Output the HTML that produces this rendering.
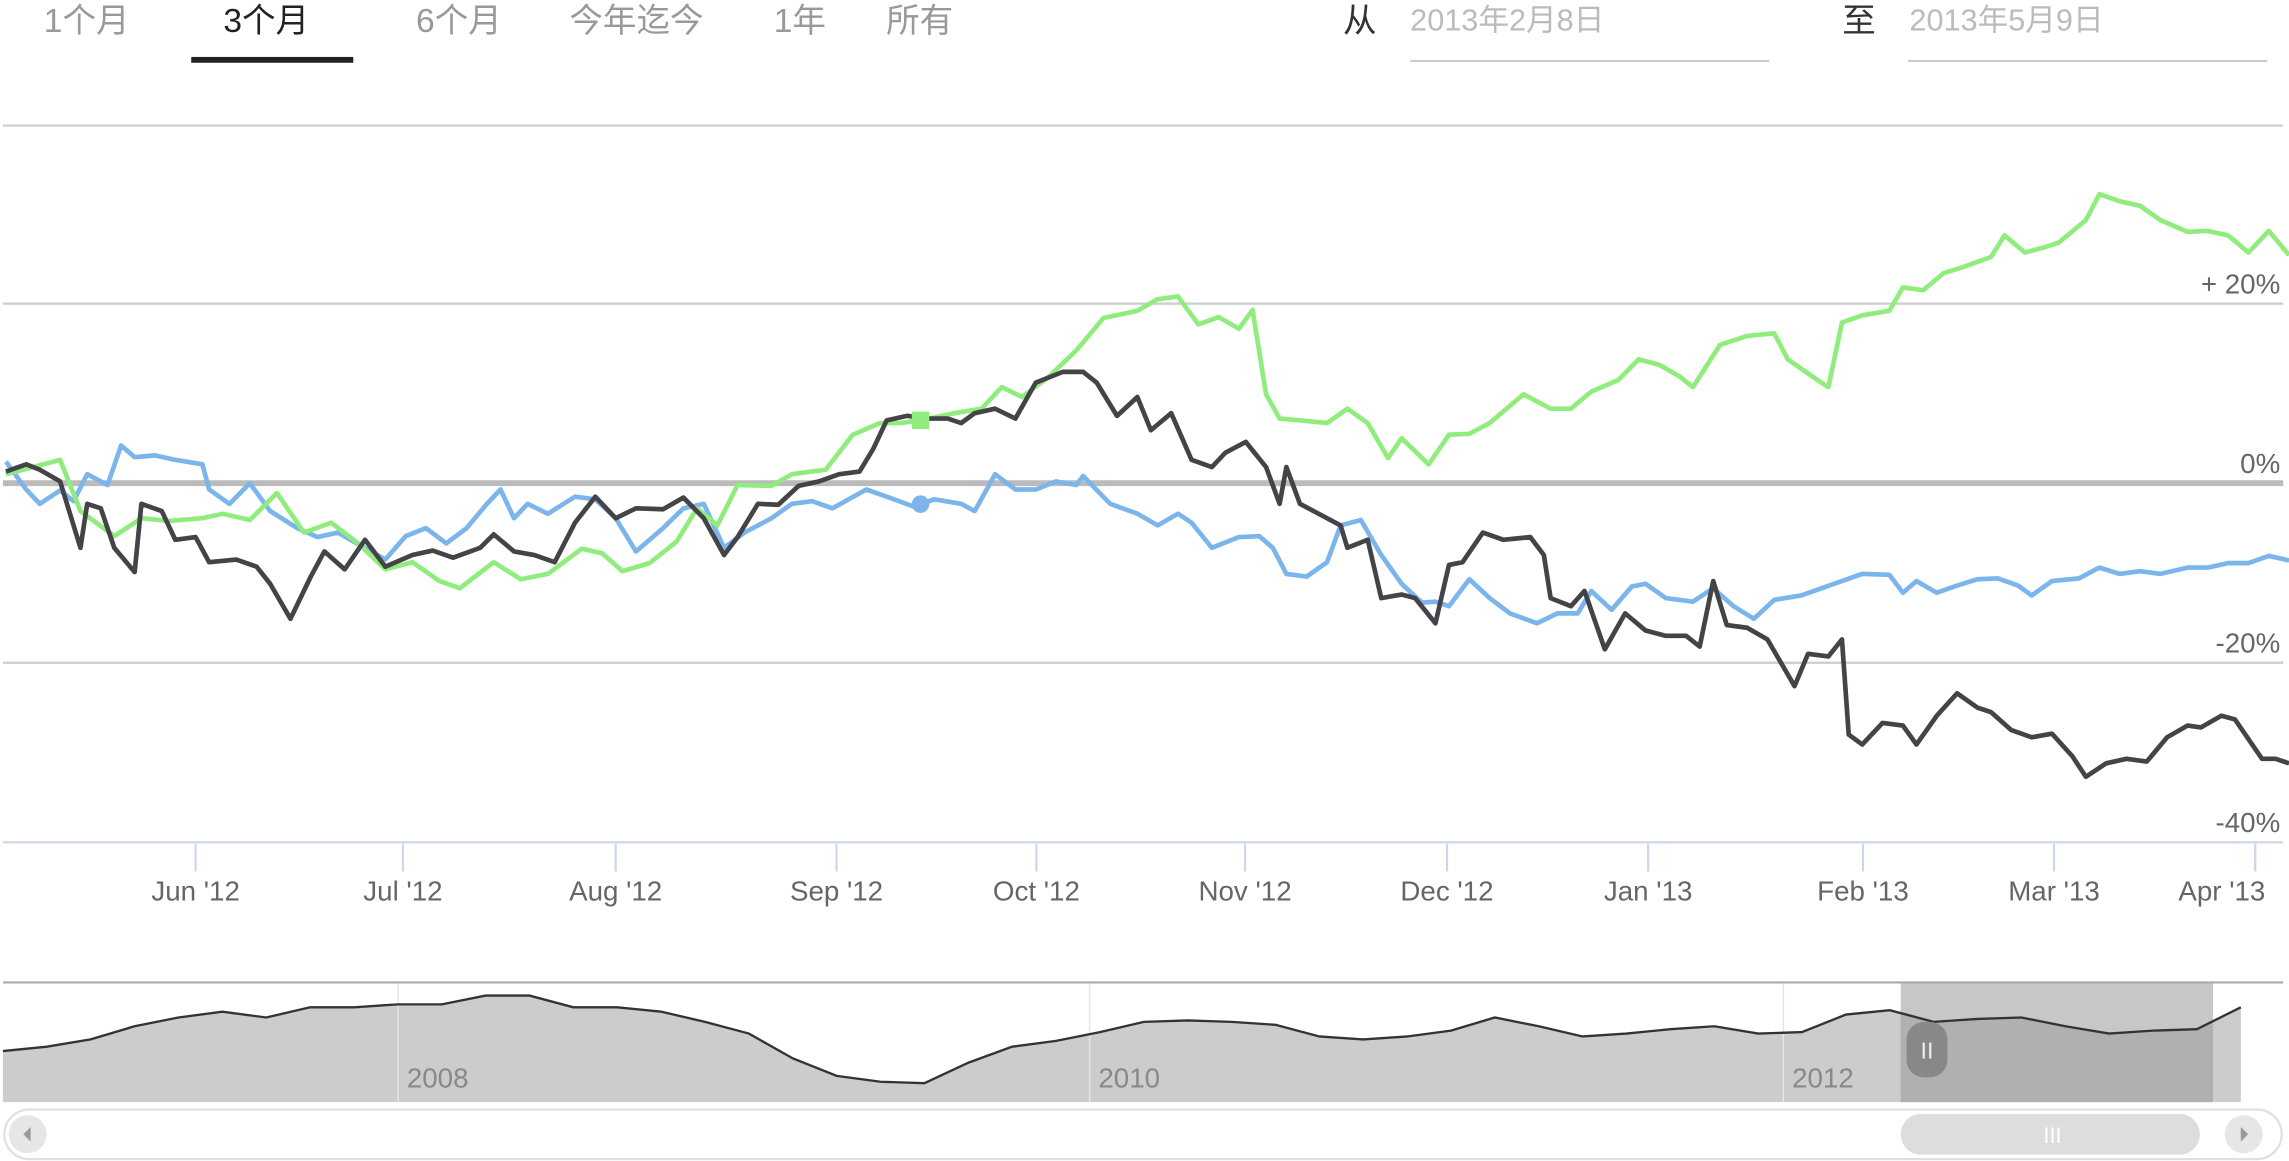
<!DOCTYPE html>
<html><head><meta charset="utf-8"><style>
html,body{margin:0;padding:0;background:#fff;}
svg{display:block;font-family:"Liberation Sans","Noto Sans CJK SC",sans-serif;}
</style></head><body>
<svg id="chart" width="2289" height="1161" viewBox="0 0 1568 795.3" preserveAspectRatio="none" xmlns="http://www.w3.org/2000/svg">
<g>
  <text x="30" y="22" font-size="23" fill="#999">1个月</text>
  <text x="153" y="22" font-size="23" fill="#222">3个月</text>
  <rect x="131" y="39" width="111" height="4" fill="#222"/>
  <text x="285" y="22" font-size="23" fill="#999">6个月</text>
  <text x="390" y="22" font-size="23" fill="#999">今年迄今</text>
  <text x="530" y="22" font-size="23" fill="#999">1年</text>
  <text x="607" y="22" font-size="23" fill="#999">所有</text>
  <text x="920" y="22" font-size="23" fill="#333">从</text>
  <text x="966" y="21" font-size="21" fill="#bbb">2013年2月8日</text>
  <rect x="966" y="41" width="246" height="1.5" fill="#ccc"/>
  <text x="1262" y="22" font-size="23" fill="#333">至</text>
  <text x="1308" y="21" font-size="21" fill="#bbb">2013年5月9日</text>
  <rect x="1307" y="41" width="246" height="1.5" fill="#ccc"/>
</g>
<line x1="2" y1="86" x2="1564" y2="86" stroke="#ccc" stroke-width="1.5"/>
<g id="grid"></g>
<g id="xaxis"></g>
<g id="series"></g>
<g id="nav"></g>
</svg>
<script>
const NS="http://www.w3.org/2000/svg";
const yTicks=[20,0,-20,-40];
const yTickLabels=["+ 20%","0%","-20%","-40%"];
const monthTickLabels=["Jun '12","Jul '12","Aug '12","Sep '12","Oct '12","Nov '12","Dec '12","Jan '13","Feb '13","Mar '13","Apr '13"];
const monthDays=[28,58.6,90,122.6,152.1,182.9,212.7,242.4,274.1,302.3,332];
const blackDays=[0,3,5,8,11,12,14,16,19,20,23,25,28,30,34,37,39,42,45,47,50,53,56,60,63,66,70,72,75,78,81,84,87,90,93,97,100,103,106,108,111,114,117,120,123,126,128,130,133,136,139,141,143,146,149,152,156,159,161,164,167,169,172,175,178,180,183,186,188,189,191,195,197,198,201,203,206,208,211,213,215,218,221,225,227,228,231,233,236,239,242,245,248,250,252,254,257,260,264,266,269,271,272,274,277,280,282,285,288,291,293,296,299,302,305,307,310,313,316,319,322,324,327,329,333,335,337];
const blackValues=[1.3,2.1,1.5,0.2,-7.2,-2.3,-2.8,-7.2,-9.9,-2.3,-3.1,-6.3,-6.0,-8.8,-8.5,-9.3,-11.2,-15.1,-10.4,-7.6,-9.6,-6.3,-9.3,-8.0,-7.5,-8.3,-7.2,-5.7,-7.6,-8.0,-8.8,-4.4,-1.5,-3.9,-2.8,-2.9,-1.6,-3.9,-8.0,-6.0,-2.3,-2.4,-0.3,0.2,1.0,1.3,3.8,7.0,7.5,7.2,7.2,6.7,7.8,8.3,7.2,11.2,12.4,12.4,11.2,7.5,9.6,5.9,7.8,2.6,1.8,3.4,4.6,1.8,-2.3,1.8,-2.3,-3.9,-4.7,-7.2,-6.3,-12.8,-12.4,-12.8,-15.6,-9.1,-8.8,-5.5,-6.3,-6.0,-8.0,-12.8,-13.7,-12.0,-18.5,-14.5,-16.4,-17.0,-17.0,-18.2,-10.9,-15.8,-16.1,-17.4,-22.6,-19.0,-19.3,-17.4,-28.0,-29.1,-26.7,-27.0,-29.1,-25.9,-23.4,-25.0,-25.5,-27.5,-28.3,-27.9,-30.4,-32.7,-31.2,-30.7,-31.0,-28.3,-27.0,-27.2,-25.9,-26.3,-30.7,-30.7,-31.2];
const blueDays=[0,3,5,8,10,12,15,17,19,22,25,29,30,33,36,39,43,46,49,52,56,59,62,65,68,71,73,75,77,80,84,87,90,93,97,100,103,106,109,113,116,119,122,127,130,134,137,141,143,146,149,152,155,158,159,163,167,170,173,175,178,182,185,187,189,192,195,197,200,203,206,209,211,213,216,219,222,226,229,232,234,237,240,242,245,249,252,255,258,261,265,268,271,274,278,280,282,285,288,291,294,297,299,302,306,309,312,315,318,322,325,328,331,334,337];
const blueValues=[2.4,-0.7,-2.3,-0.8,-2.0,1.0,-0.2,4.2,2.9,3.1,2.6,2.1,-0.7,-2.3,0,-3.1,-5.0,-6.0,-5.5,-6.8,-8.5,-5.9,-5.0,-6.7,-5.0,-2.3,-0.7,-3.9,-2.3,-3.4,-1.5,-1.8,-3.9,-7.6,-5.0,-2.8,-2.3,-7.2,-5.5,-3.9,-2.3,-2.0,-2.8,-0.7,-1.5,-2.6,-1.8,-2.3,-3.1,1.0,-0.7,-0.7,0.2,-0.2,0.8,-2.3,-3.4,-4.7,-3.4,-4.4,-7.2,-6.0,-5.9,-7.2,-10.1,-10.4,-8.8,-4.7,-4.1,-8.0,-11.2,-13.3,-13.2,-13.7,-10.7,-12.8,-14.5,-15.6,-14.5,-14.5,-12.0,-14.1,-11.5,-11.2,-12.8,-13.2,-11.7,-13.7,-15.1,-13.0,-12.5,-11.7,-10.9,-10.1,-10.2,-12.2,-10.9,-12.2,-11.4,-10.7,-10.6,-11.4,-12.5,-10.9,-10.6,-9.4,-10.1,-9.8,-10.1,-9.4,-9.4,-8.9,-8.9,-8.1,-8.6];
const greenDays=[0,8,11,16,20,24,29,32,36,40,44,48,52,56,60,64,67,72,76,80,85,88,91,95,99,102,105,108,113,116,121,125,129,132,135,140,144,147,150,154,158,162,167,170,173,176,179,182,184,186,188,191,195,198,201,204,206,210,213,216,219,224,228,231,234,238,241,244,247,249,253,257,261,263,267,269,271,274,278,280,283,286,289,293,295,298,301,303,307,309,312,315,318,322,325,328,331,334,337];
const greenValues=[1.0,2.6,-3.1,-5.9,-3.9,-4.2,-3.9,-3.4,-4.1,-1.1,-5.5,-4.4,-6.7,-9.6,-8.8,-10.9,-11.7,-8.8,-10.7,-10.1,-7.3,-7.8,-9.8,-8.9,-6.5,-2.8,-4.7,-0.2,-0.3,1.0,1.5,5.4,6.7,6.7,7.0,7.8,8.3,10.7,9.6,11.9,14.8,18.4,19.2,20.5,20.8,17.7,18.5,17.2,19.3,9.9,7.2,7.0,6.7,8.3,6.7,2.8,5.0,2.1,5.4,5.5,6.7,9.9,8.3,8.3,10.2,11.5,13.8,13.2,11.9,10.7,15.4,16.4,16.7,13.8,11.7,10.7,17.9,18.7,19.2,21.8,21.5,23.4,24.1,25.2,27.6,25.7,26.3,26.8,29.3,32.2,31.4,30.9,29.3,28.0,28.1,27.6,25.7,28.1,25.4];
const markerDay=135;
const navValues=[35,38,43,52,58,62,58,65,65,67,67,73,73,65,65,62,55,47,30,18,14,13,27,38,42,48,55,56,55,53,45,43,45,49,58,52,45,47,50,52,47,48,60,63,55,57,58,52,47,49,50,65];
const navYearLabels=["2008","2010","2012"];
const navYearPos=[0.176,0.484,0.793];

const X0=134,PXD=4.641;
const xS=d=>X0+(d-28)*PXD;
const yS=v=>331-v*6.15;
function el(tag,attrs,parent){const e=document.createElementNS(NS,tag);for(const k in attrs)e.setAttribute(k,attrs[k]);parent.appendChild(e);return e;}
const grid=document.getElementById('grid');
yTicks.forEach((t,i)=>{
  const y=yS(t);
  const ln=el('line',{x1:2,x2:1564,y1:y,y2:y,stroke:t===0?'#bbb':(t===-40?'#ccd6eb':'#ccc'),'stroke-width':t===0?4:1.5},grid);
  
  
  const tx=el('text',{x:1562,y:y-7,'text-anchor':'end','font-size':19,fill:'#666'},grid);
  tx.textContent=yTickLabels[i];
  
  
});
const xa=document.getElementById('xaxis');
monthDays.forEach((d,i)=>{
  const x=xS(d);
  const tk=el('line',{x1:x,x2:x,y1:578,y2:597,stroke:'#ccd6eb','stroke-width':1.5},xa);
  
  
  const tx=el('text',{x:Math.min(x,1522),y:617,'text-anchor':'middle','font-size':19,fill:'#666'},xa);
  tx.textContent=monthTickLabels[i];
  
  
});
const sg=document.getElementById('series');
function drawLine(days,vals,color,name){
  const p=el('polyline',{points:days.map((d,i)=>xS(d)+','+yS(vals[i])).join(' '),fill:'none',stroke:color,'stroke-width':3.2,'stroke-linejoin':'round'},sg);
  
  
}
drawLine(blueDays,blueValues,'#7cb5ec','series-blue-line');
drawLine(greenDays,greenValues,'#90ed7d','series-green-line');
drawLine(blackDays,blackValues,'#434348','series-black-line');
function interp(days,vals,d){for(let i=1;i<days.length;i++){if(days[i]>=d){const t=(d-days[i-1])/(days[i]-days[i-1]||1);return vals[i-1]+t*(vals[i]-vals[i-1]);}}return vals[vals.length-1];}
const sq=el('rect',{x:xS(markerDay)-6,y:yS(interp(greenDays,greenValues,markerDay))-6,width:12,height:12,fill:'#90ed7d'},sg);


const ci=el('circle',{cx:xS(markerDay),cy:yS(interp(blueDays,blueValues,markerDay)),r:6,fill:'#7cb5ec'},sg);



const navG=document.getElementById('nav');
const NX0=2,NX1=1535,NYB=755;
const nx=i=>NX0+i*(NX1-NX0)/(navValues.length-1);
const ny=v=>NYB-v;
const navPts=navValues.map((v,i)=>nx(i)+','+ny(v)).join(' ');
const navArea=el('polygon',{points:NX0+','+NYB+' '+navPts+' '+NX1+','+NYB,fill:'#ccc'},navG);


navYearPos.forEach((f,i)=>{
  const x=NX0+f*1538;
  const g=el('line',{x1:x,x2:x,y1:673,y2:755,stroke:'#e6e6e6','stroke-width':1},navG);
  
  
  const t=el('text',{x:x+6,y:745,'font-size':19,fill:'#888'},navG);
  t.textContent=navYearLabels[i];
  
  
});
const navSel=el('rect',{x:1302,y:673,width:214,height:82,fill:'#999','fill-opacity':0.55},navG);


const navLine=el('polyline',{points:navPts,fill:'none',stroke:'#333','stroke-width':1.6},navG);


const navTop=el('line',{x1:2,x2:1564,y1:673,y2:673,stroke:'#aaa','stroke-width':1.5},navG);


const navHandle=el('rect',{x:1306,y:700,width:28,height:38,rx:12,fill:'#888'},navG);


const navHandleText=el('text',{x:1320,y:725,'text-anchor':'middle','font-size':16,fill:'#eee'},navG);
navHandleText.textContent='II';


const sbTrack=el('rect',{x:3,y:760,width:1560,height:34,rx:17,fill:'#fff',stroke:'#e0e0e0','stroke-width':1.5},navG);


const sbLeft=el('circle',{cx:19,cy:777,r:13,fill:'#e6e6e6'},navG);


const sbLeftArrow=el('polygon',{points:'21,772 16,777 21,782',fill:'#999'},navG);


const sbRight=el('circle',{cx:1537,cy:777,r:13,fill:'#e6e6e6'},navG);


const sbRightArrow=el('polygon',{points:'1535,772 1540,777 1535,782',fill:'#999'},navG);


const sbThumb=el('rect',{x:1302,y:763,width:205,height:28,rx:14,fill:'#ddd'},navG);


const sbThumbText=el('text',{x:1406,y:783,'text-anchor':'middle','font-size':15,fill:'#fff'},navG);
sbThumbText.textContent='III';


</script>
</body></html>
